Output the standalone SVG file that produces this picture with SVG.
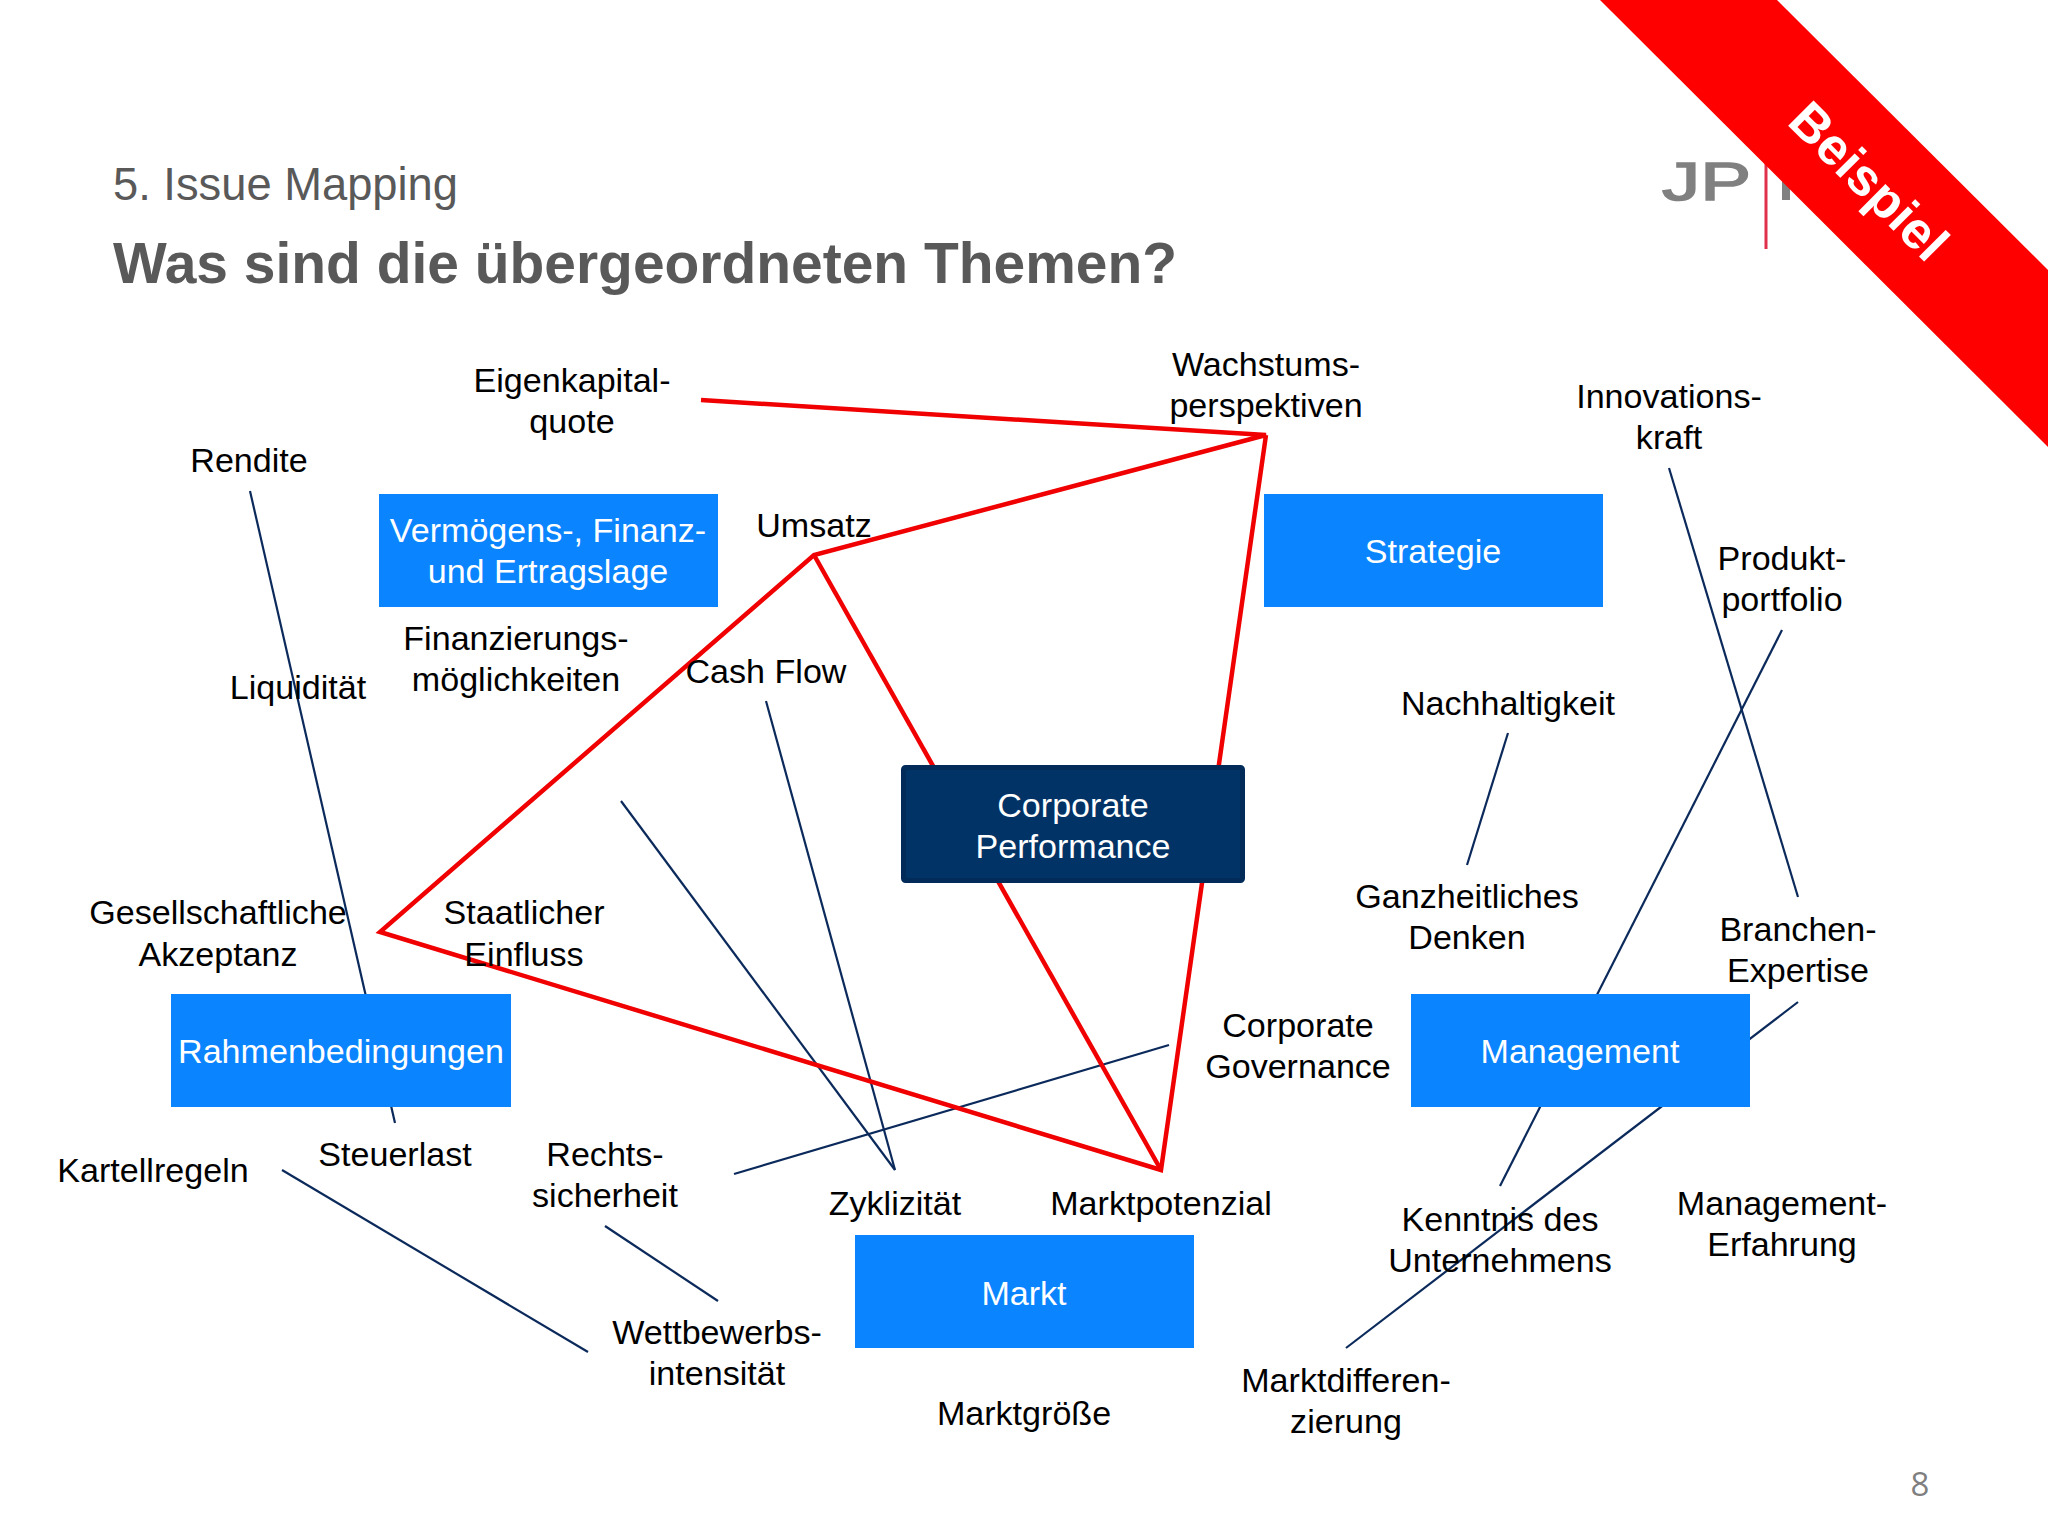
<svg xmlns="http://www.w3.org/2000/svg" width="2048" height="1536" viewBox="0 0 2048 1536">
<style>
text{font-family:"Liberation Sans",Arial,sans-serif}
.l{font-size:34.1px;fill:#000;text-anchor:middle}
.w{font-size:34.1px;fill:#fff;text-anchor:middle}
.box{fill:#0a84ff}
.n{stroke:#0b2a5b;stroke-width:2.2;fill:none}
.r{stroke:#f00000;stroke-width:4.5;fill:none;stroke-linejoin:miter}
</style>
<rect width="2048" height="1536" fill="#fff"/>
<g id="header">
<text x="113" y="200" font-size="45.3" fill="#595959">5. Issue Mapping</text>
<text x="113" y="283" font-size="56.95" font-weight="700" fill="#595959">Was sind die übergeordneten Themen?</text>
</g>
<g id="logo">
<text x="1662" y="200" font-size="53" fill="#808080" stroke="#808080" stroke-width="1.5" textLength="89" lengthAdjust="spacingAndGlyphs">JP</text>
<rect x="1764.500" y="160" width="3" height="89" fill="#e0304c"/>
<rect x="1782" y="162" width="8" height="38" fill="#808080"/>
</g>
<g id="connectors">
<path class="n" d="M250 491L395 1123"/>
<path class="n" d="M1669 468L1798 897"/>
<path class="n" d="M1782 630L1500 1186"/>
<path class="n" d="M1508 733L1467 865"/>
<path class="n" d="M1798 1002L1346 1348"/>
<path class="n" d="M1169 1045L734 1174"/>
<path class="n" d="M766 701L895 1170"/>
<path class="n" d="M621 801L895 1170"/>
<path class="n" d="M605 1226L718 1301"/>
<path class="n" d="M282 1170L588 1352"/>
<path class="r" d="M701 400L1266 435L814 555L380 932L1161 1170L1266 435"/>
<path class="r" d="M814 555L1161 1170"/>
</g>
<g id="box-vermoegen"><rect class="box" x="379" y="494" width="339" height="113"/><text class="w" x="548" y="542">Vermögens-, Finanz-</text><text class="w" x="548" y="583">und Ertragslage</text></g>
<g id="box-strategie"><rect class="box" x="1264" y="494" width="339" height="113"/><text class="w" x="1433" y="563">Strategie</text></g>
<g id="box-corporate-performance"><rect x="903.500" y="767.500" width="339" height="113" rx="2" fill="#013366" stroke="#022b59" stroke-width="5"/><text class="w" x="1073" y="817">Corporate</text><text class="w" x="1073" y="858">Performance</text></g>
<g id="box-rahmenbedingungen"><rect class="box" x="171" y="994" width="340" height="113"/><text class="w" x="341" y="1063">Rahmenbedingungen</text></g>
<g id="box-management"><rect class="box" x="1411" y="994" width="339" height="113"/><text class="w" x="1580" y="1063">Management</text></g>
<g id="box-markt"><rect class="box" x="855" y="1235" width="339" height="113"/><text class="w" x="1024" y="1305">Markt</text></g>
<g id="labels">
<g id="eigenkapitalquote"><text class="l" x="572" y="392">Eigenkapital-</text><text class="l" x="572" y="433">quote</text></g>
<g id="wachstumsperspektiven"><text class="l" x="1266" y="376">Wachstums-</text><text class="l" x="1266" y="417">perspektiven</text></g>
<g id="innovationskraft"><text class="l" x="1669" y="408">Innovations-</text><text class="l" x="1669" y="449">kraft</text></g>
<g id="rendite"><text class="l" x="249" y="472">Rendite</text></g>
<g id="umsatz"><text class="l" x="814" y="537">Umsatz</text></g>
<g id="produktportfolio"><text class="l" x="1782" y="570">Produkt-</text><text class="l" x="1782" y="611">portfolio</text></g>
<g id="finanzierung"><text class="l" x="516" y="650">Finanzierungs-</text><text class="l" x="516" y="691">möglichkeiten</text></g>
<g id="liquiditaet"><text class="l" x="298" y="699">Liquidität</text></g>
<g id="cashflow"><text class="l" x="766" y="683">Cash Flow</text></g>
<g id="nachhaltigkeit"><text class="l" x="1508" y="715">Nachhaltigkeit</text></g>
<g id="akzeptanz"><text class="l" x="218" y="924">Gesellschaftliche</text><text class="l" x="218" y="966">Akzeptanz</text></g>
<g id="einfluss"><text class="l" x="524" y="924">Staatlicher</text><text class="l" x="524" y="966">Einfluss</text></g>
<g id="ganzheitlich"><text class="l" x="1467" y="908">Ganzheitliches</text><text class="l" x="1467" y="949">Denken</text></g>
<g id="branchen"><text class="l" x="1798" y="941">Branchen-</text><text class="l" x="1798" y="982">Expertise</text></g>
<g id="governance"><text class="l" x="1298" y="1037">Corporate</text><text class="l" x="1298" y="1078">Governance</text></g>
<g id="steuerlast"><text class="l" x="395" y="1166">Steuerlast</text></g>
<g id="kartellregeln"><text class="l" x="153" y="1182">Kartellregeln</text></g>
<g id="rechtssicherheit"><text class="l" x="605" y="1166">Rechts-</text><text class="l" x="605" y="1207">sicherheit</text></g>
<g id="zyklizitaet"><text class="l" x="895" y="1215">Zyklizität</text></g>
<g id="marktpotenzial"><text class="l" x="1161" y="1215">Marktpotenzial</text></g>
<g id="kenntnis"><text class="l" x="1500" y="1231">Kenntnis des</text><text class="l" x="1500" y="1272">Unternehmens</text></g>
<g id="erfahrung"><text class="l" x="1782" y="1215">Management-</text><text class="l" x="1782" y="1256">Erfahrung</text></g>
<g id="wettbewerb"><text class="l" x="717" y="1344">Wettbewerbs-</text><text class="l" x="717" y="1385">intensität</text></g>
<g id="marktgroesse"><text class="l" x="1024" y="1425">Marktgröße</text></g>
<g id="marktdifferenzierung"><text class="l" x="1346" y="1392">Marktdifferen-</text><text class="l" x="1346" y="1433">zierung</text></g>
</g>
<g id="ribbon">
<polygon points="1600,0 1777,0 2048,270 2048,447" fill="#ff0000"/>
<text x="1869" y="181" font-size="52" font-weight="700" fill="#fff" text-anchor="middle" dominant-baseline="central" transform="rotate(45 1869 181)">Beispiel</text>
</g>
<text id="page" x="1920" y="1496" font-size="33" fill="#7f7f7f" text-anchor="middle" style="font-family:'Open Sans',sans-serif">8</text>
</svg>
